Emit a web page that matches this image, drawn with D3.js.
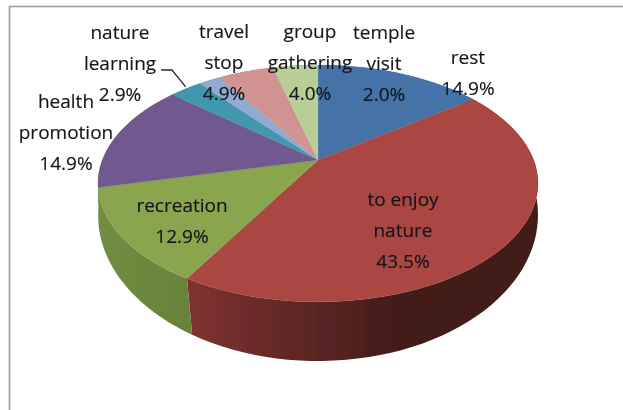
<!DOCTYPE html>
<html><head><meta charset="utf-8">
<script src="https://cdn.jsdelivr.net/npm/d3@7/dist/d3.min.js"></script>
<style>html,body{margin:0;padding:0;background:#fff}svg{display:block}
text{font-family:"Open Sans",sans-serif;font-size:19px;fill:#14141c;stroke:#14141c;stroke-width:0.15px;text-anchor:middle}</style>
</head><body><div id="c"></div>
<script>
// Data
const categories = ["rest","to enjoy nature","recreation","health promotion","nature learning","temple visit","travel stop","group gathering"];
const values = [14.9,43.5,12.9,14.9,2.9,2.0,4.9,4.0];
const valueLabels = ["14.9%","43.5%","12.9%","14.9%","2.9%","2.0%","4.9%","4.0%"];
const labelLines = [["rest"],["to enjoy","nature"],["recreation"],["health","promotion"],["nature","learning"],["temple","visit"],["travel","stop"],["group","gathering"]];
// Styles and layout
const topColors = ["#4572a7","#aa4643","#89a54e","#71588f","#4198af","#93a9cf","#d19392","#b9cd96"];
const sideStops = [["#2f4d72","#2f4d72"],["#7e3230","#421c19"],["#6f8d41","#6a8239"],["#6f8d41","#6f8d41"],["#2c6777","#2c6777"],["#64738d","#64738d"],["#8e6463","#8e6463"],["#7e8b66","#7e8b66"]];
const labelAnchors = [[468,64],[403,206],[182,212],[66,108],[120,39],[384,39],[224,38],[310,38]];
const lineGap = 31;

const W=623,H=410;
const svg=d3.select("#c").append("svg").attr("width",W).attr("height",H);
const defs=svg.append("defs");
defs.append("filter").attr("id","soft").append("feGaussianBlur").attr("stdDeviation",0.45);
svg.append("path").attr("d",`M9.5 ${H}V6.5H${W}`).attr("fill","none").attr("stroke","#9a9a9a").attr("stroke-width",1.6);

// perspective projection of the pie plane: top face and bottom rim
const cx=318;
const plane=(R,S,y0,persp)=>a=>{const u=Math.sin(a),v=-Math.cos(a),w=1-persp*v;return [cx+R*u/w,y0+S*v/w];};
const topP=plane(215.6,113.8,160,0.198), botP=plane(217.5,142.8,193,0.15);
const pie=d3.pie().sort(null).value(d=>d);
const arcs=pie(values);
const steps=(a,b)=>d3.range(0,61).map(i=>a+(b-a)*i/60);
const line=d3.line();
const pie3d=svg.append("g").attr("filter","url(#soft)");

arcs.forEach((d,i)=>{
  const id="side"+i;
  const g=defs.append("linearGradient").attr("id",id).attr("gradientUnits","userSpaceOnUse")
    .attr("x1",i===1?190:100).attr("x2",i===1?400:192).attr("y1",0).attr("y2",0);
  g.append("stop").attr("offset",0).attr("stop-color",sideStops[i][0]);
  g.append("stop").attr("offset",1).attr("stop-color",sideStops[i][1]);
  const as=steps(d.startAngle,d.endAngle);
  pie3d.append("path").attr("d",line(as.map(topP).concat(as.slice().reverse().map(botP)))+"Z")
    .attr("fill",`url(#${id})`);
});
arcs.forEach((d,i)=>{
  const as=steps(d.startAngle,d.endAngle);
  pie3d.append("path").attr("d",line([[cx,160]].concat(as.map(topP)))+"Z")
    .attr("fill",topColors[i]).attr("stroke",topColors[i]).attr("stroke-width",0.3);
});
// leader line for "nature learning"
const mid=(arcs[4].startAngle+arcs[4].endAngle)/2, tip=topP(mid);
svg.append("path").attr("d",line([[161,70],[172,70],[tip[0],tip[1]-2]])).attr("fill","none").attr("stroke","#2a2a2a").attr("stroke-width",1.3);

const lg=svg.append("g").attr("filter","url(#soft)");
labelLines.forEach((lines,i)=>{
  const all=lines.concat([valueLabels[i]]);
  all.forEach((t,j)=>lg.append("text").attr("x",labelAnchors[i][0]).attr("y",labelAnchors[i][1]+j*lineGap).text(t));
});
</script></body></html>
